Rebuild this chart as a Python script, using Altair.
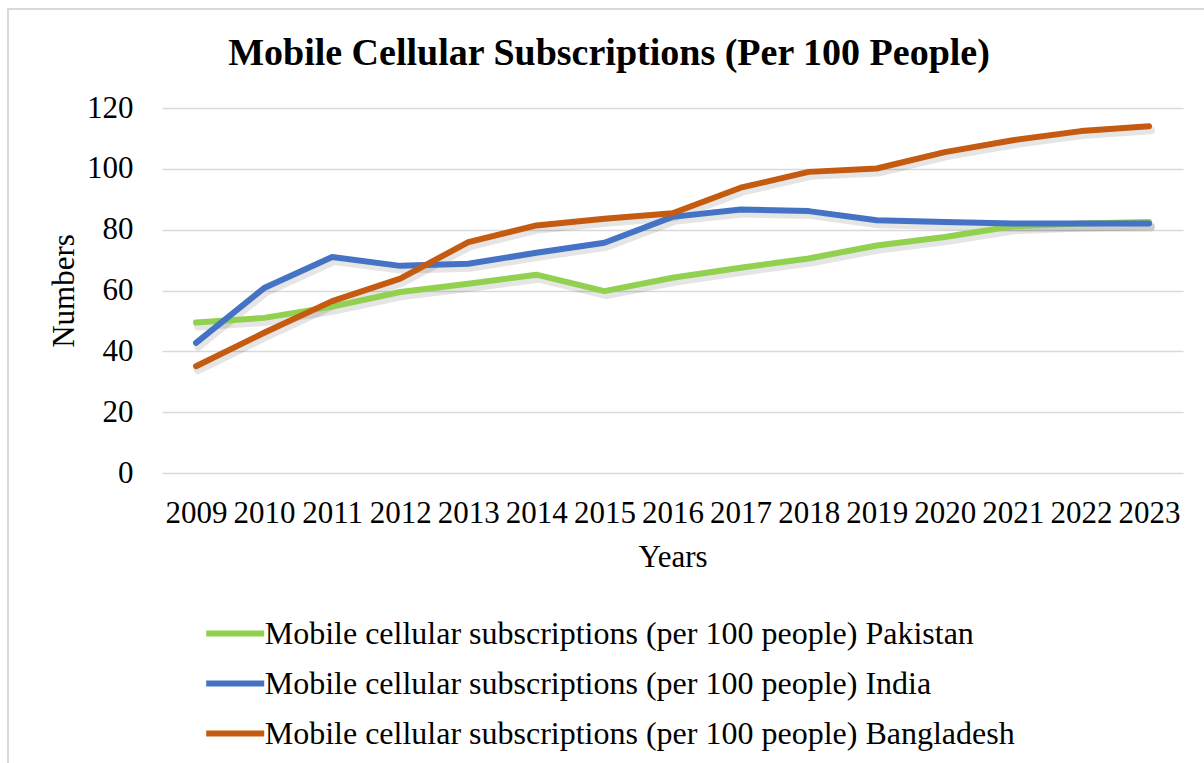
import altair as alt
import pandas as pd

years = [str(y) for y in range(2009, 2024)]
pakistan = [49.5, 51.0, 54.7, 59.5, 62.2, 65.2, 59.8, 64.2, 67.5, 70.5, 74.8, 77.6, 81.1, 82.0, 82.5]
india = [42.8, 60.8, 71.0, 68.1, 68.8, 72.4, 75.7, 84.2, 86.6, 86.1, 83.1, 82.5, 82.0, 82.0, 82.0]
bangladesh = [35.1, 46.1, 56.5, 63.9, 75.9, 81.4, 83.6, 85.4, 93.8, 99.0, 100.1, 105.5, 109.4, 112.4, 114.0]

series_names = [
    "Mobile cellular subscriptions (per 100 people) Pakistan",
    "Mobile cellular subscriptions (per 100 people) India",
    "Mobile cellular subscriptions (per 100 people) Bangladesh",
]
series_colors = ["#92D050", "#4472C4", "#C55A11"]
title_text = ["Mobile Cellular Subscriptions (Per 100 People)"]

rows = []
for name, vals in zip(series_names, [pakistan, india, bangladesh]):
    for y, v in zip(years, vals):
        rows.append({"Year": y, "Value": v, "Series": name})
df = pd.DataFrame(rows)

FONT = "Liberation Serif"

x_enc = alt.X(
    "Year:O",
    sort=years,
    scale=alt.Scale(type="point", padding=0.5),
    axis=alt.Axis(
        title="Years",
        labelAngle=0,
        labelFont=FONT,
        labelFontSize=31,
        labelColor="#000000",
        labelBaseline="alphabetic",
        labelPadding=49,
        tickSize=0,
        ticks=False,
        domain=False,
        grid=False,
        titleFont=FONT,
        titleFontSize=31,
        titleFontWeight="normal",
        titleColor="#000000",
        titleBaseline="alphabetic",
        titleY=93,
    ),
)
y_enc = alt.Y(
    "Value:Q",
    scale=alt.Scale(domain=[0, 120], nice=False, zero=True),
    axis=alt.Axis(
        title="Numbers",
        values=[0, 20, 40, 60, 80, 100, 120],
        labelFont=FONT,
        labelFontSize=31,
        labelColor="#000000",
        labelPadding=29,
        tickSize=0,
        ticks=False,
        domain=False,
        grid=True,
        gridColor="#D9D9D9",
        gridWidth=1.5,
        titleFont=FONT,
        titleFontSize=31,
        titleFontWeight="normal",
        titleColor="#000000",
        titleAngle=270,
        titleBaseline="alphabetic",
        titleAlign="center",
        titleX=-89,
        titleY=182.5,
    ),
)

shadow = alt.Chart(df).mark_line(
    strokeWidth=8, strokeCap="round", strokeJoin="round", opacity=0.1, xOffset=2, yOffset=4
).encode(
    x=x_enc,
    y=y_enc,
    detail="Series:N",
    color=alt.value("#000000"),
)

lines = alt.Chart(df).mark_line(
    strokeWidth=6, strokeCap="round", strokeJoin="round"
).encode(
    x=x_enc,
    y=y_enc,
    color=alt.Color(
        "Series:N",
        sort=series_names,
        scale=alt.Scale(domain=series_names, range=series_colors),
        legend=alt.Legend(
            title=None,
            orient="none",
            direction="vertical",
            legendX=50.7,
            legendY=503,
            padding=0,
            symbolType="M-1.5,0H1.5",
            symbolSize=1495,
            symbolStrokeWidth=6,
            labelOffset=7,
            rowPadding=11,
            labelFont=FONT,
            labelFontSize=32,
            labelColor="#000000",
            labelLimit=1000,
        ),
    ),
)

border_df = pd.DataFrame({"k": [0]})
border = alt.Chart(border_df).mark_rect(
    fill=None, stroke="#D9D9D9", strokeWidth=2
).encode(
    x=alt.value(-154),
    x2=alt.value(1100),
    y=alt.value(-99),
    y2=alt.value(700),
)

title_df = pd.DataFrame({"t": title_text})
title = alt.Chart(title_df).mark_text(
    font=FONT,
    fontSize=38,
    fontWeight="bold",
    color="#000000",
    align="center",
    baseline="alphabetic",
).encode(
    text="t:N",
    x=alt.value(447),
    y=alt.value(-43),
)

chart = alt.layer(border, shadow, lines, title).properties(
    width=1021,
    height=365,
    autosize=alt.AutoSizeParams(type="none"),
    padding={"left": 162, "top": 108, "right": 21, "bottom": 290},
    background="#FFFFFF",
).configure_view(stroke=None)

chart.save("out.html", embed_options={"renderer": "svg", "actions": False})
